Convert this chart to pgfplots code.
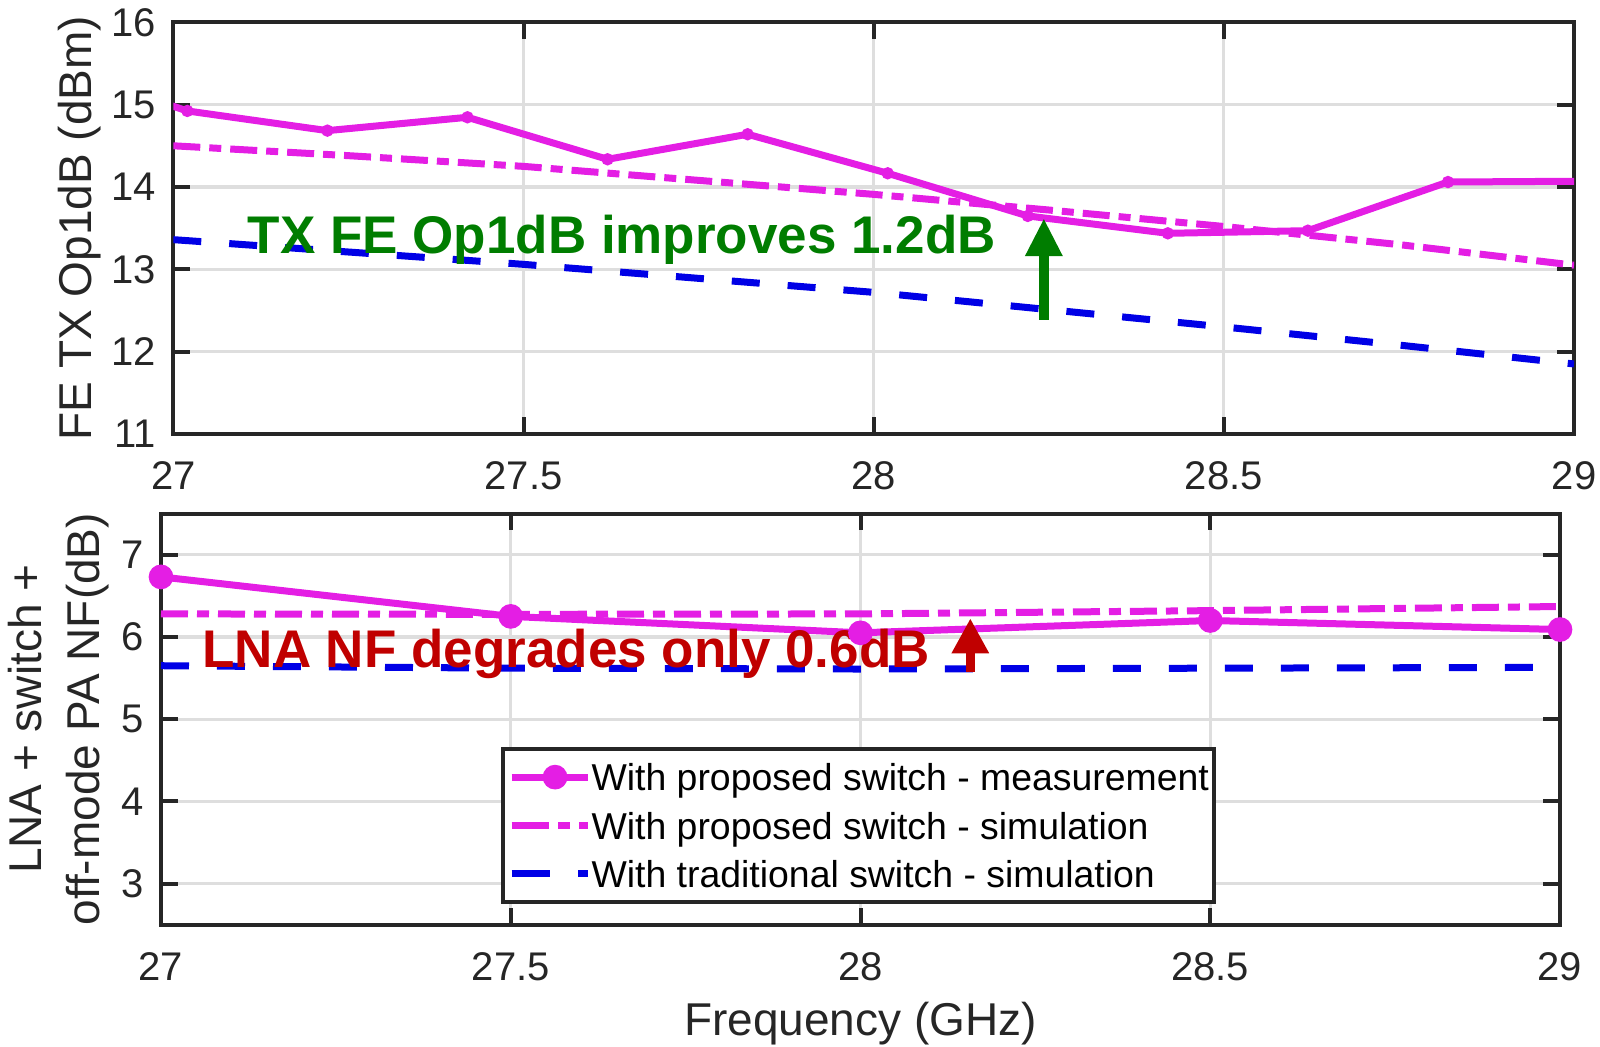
\documentclass[border=0pt]{standalone}
\usepackage{fontspec}
\setmainfont{Liberation Sans}
\usepackage{pgfplots}
\pgfplotsset{compat=1.18}
\usetikzlibrary{arrows.meta}
\definecolor{mag}{RGB}{228,30,228}
\definecolor{myblue}{RGB}{0,0,230}
\definecolor{axgray}{RGB}{38,38,38}
\definecolor{gridgray}{RGB}{222,222,222}
\definecolor{dkgreen}{RGB}{0,125,0}
\definecolor{dkred}{RGB}{192,0,0}

\pgfplotsset{
  myaxis/.style={
    scale only axis, anchor=south west,
    xmin=27, xmax=29, xtick={27,27.5,28,28.5,29},
    axis line style={draw=axgray, line width=1pt},
    tick style={draw=axgray, line width=1pt},
    major tick length=4.2pt,
    grid=major, major grid style={draw=gridgray, line width=0.8pt},
    tick label style={font=\fontsize{10}{12}\selectfont, text=axgray},
    /pgf/number format/assume math mode=true,
    xticklabel style={yshift=-3.4pt},
    yticklabel style={xshift=-0.8pt},
    label style={font=\fontsize{11.5}{14.5}\selectfont, text=axgray},
  },
  meas/.style={draw=mag, line width=1.75pt, solid},
  simp/.style={draw=mag, line width=1.75pt, dash pattern=on 6.75pt off 2.25pt on 3pt off 2.25pt},
  simt/.style={draw=myblue, line width=1.75pt, dash pattern=on 7pt off 7pt},
}

\begin{document}
\begin{tikzpicture}
\useasboundingbox (0,0) rectangle (400pt,261.75pt);

% ---------------- top axis ----------------
\begin{axis}[myaxis,
  at={(43.33pt,153.25pt)}, width=350.18pt, height=102.93pt,
  ymin=11, ymax=16, ytick={11,12,13,14,15,16},
  ylabel={FE TX Op1dB (dBm)},
  ylabel style={at={(axis description cs:-0.0666,0.5)}, anchor=center},
]
\addplot[meas, forget plot] coordinates {
 (26.82,15.49) (27.02,14.923) (27.22,14.684) (27.42,14.846) (27.62,14.336)
 (27.82,14.64) (28.02,14.166) (28.22,13.648) (28.42,13.437) (28.62,13.469)
 (28.82,14.06) (29.02,14.07)};
\addplot[only marks, mark=*, mark size=1.35pt, mark options={draw=mag, fill=mag, solid}] coordinates {
 (27.02,14.923) (27.22,14.684) (27.42,14.846) (27.62,14.336)
 (27.82,14.64) (28.02,14.166) (28.22,13.648) (28.42,13.437) (28.62,13.469)
 (28.82,14.06)};
\addplot[simp] coordinates {
 (27,14.50) (27.25,14.38) (27.5,14.25) (27.75,14.08) (28,13.91)
 (28.25,13.72) (28.5,13.52) (28.75,13.30) (29,13.05)};
\addplot[simt] coordinates {
 (27,13.36) (27.25,13.21) (27.5,13.06) (27.75,12.89) (28,12.72)
 (28.25,12.51) (28.5,12.30) (28.75,12.08) (29,11.85)};
\node[anchor=base west, inner sep=0pt, text=dkgreen, font=\fontsize{13.25}{15}\selectfont\bfseries]
  at (axis cs:27.105,13.195) {TX FE Op1dB improves 1.2dB};
\draw[dkgreen, line width=2.5pt, -{Triangle[width=8.75pt, length=9.5pt]}]
  (axis cs:28.243,12.385) -- (axis cs:28.243,13.62);
\end{axis}

% ---------------- bottom axis ----------------
\begin{axis}[myaxis,
  at={(40.25pt,30.55pt)}, width=349.75pt, height=102.8pt,
  ymin=2.5, ymax=7.5, ytick={3,4,5,6,7},
  ylabel={LNA + switch +\\off-mode PA NF(dB)},
  ylabel style={at={(axis description cs:-0.0729,0.5)}, anchor=center, align=center},
  xlabel={Frequency (GHz)},
  xlabel style={at={(axis description cs:0.5,-0.2704)}, anchor=base},
  legend cell align=left,
  legend style={at={(rel axis cs:0.2433,0.433)}, anchor=north west,
    draw=axgray, line width=1pt, fill=white,
    font=\fontsize{9.35}{11}\selectfont, text=black,
    inner xsep=1.2pt, inner ysep=2.8pt, row sep=3.5pt,
    nodes={inner sep=0pt, inner xsep=0pt, text height=7.7pt, text depth=0.9pt}},
  legend image code/.code={\path (0pt,0pt) -- (2.6pt,0pt);
    \draw[mark repeat=2, mark phase=2, #1] plot coordinates {(2.6pt,0pt) (10.85pt,0pt) (19.1pt,0pt)};},
]
\addplot[meas, mark=*, mark size=2.2pt, mark options={draw=mag, fill=mag, solid}] coordinates {
 (27,6.73) (27.5,6.25) (28,6.05) (28.5,6.20) (29,6.09)};
\addlegendentry{With proposed switch - measurement}
\addplot[simp] coordinates {
 (27,6.28) (27.5,6.275) (28,6.28) (28.5,6.32) (29,6.37)};
\addlegendentry{With proposed switch - simulation}
\addplot[simt] coordinates {
 (27,5.65) (27.5,5.62) (28,5.61) (28.5,5.62) (29,5.63)};
\addlegendentry{With traditional switch - simulation}
\node[anchor=base west, inner sep=0pt, text=dkred, font=\fontsize{13.25}{15}\selectfont\bfseries]
  at (axis cs:27.058,5.623) {LNA NF degrades only 0.6dB};
\draw[dkred, line width=2.3pt, -{Triangle[width=8.75pt, length=8.75pt]}]
  (axis cs:28.157,5.578) -- (axis cs:28.157,6.227);
\end{axis}
\end{tikzpicture}
\end{document}
